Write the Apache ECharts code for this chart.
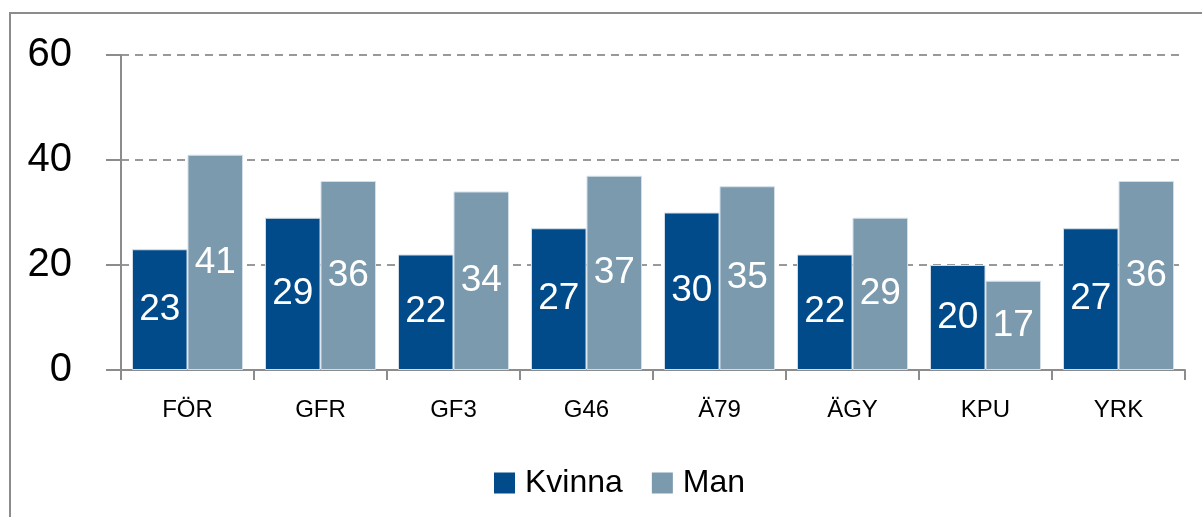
<!DOCTYPE html>
<html>
<head>
<meta charset="utf-8">
<script src="https://cdn.jsdelivr.net/npm/echarts@6/dist/echarts.min.js"></script>
<style>
  html, body { margin: 0; padding: 0; background: #fff; }
  #chart { width: 1202px; height: 517px; }
</style>
</head>
<body>
<div id="chart"></div>
<script>
// data
const categories = ["FÖR", "GFR", "GF3", "G46", "Ä79", "ÄGY", "KPU", "YRK"];
const kvinna = [23, 29, 22, 27, 30, 22, 20, 27];
const man = [41, 36, 34, 37, 35, 29, 17, 36];
const seriesNames = ["Kvinna", "Man"];
const yTicks = [0, 20, 40, 60];

const font = "'Liberation Sans', Arial, sans-serif";

let myChart = echarts.init(document.getElementById("chart"));

function barSeries(name, data, color) {
  return {
    name: name,
    type: "bar",
    data: data,
    barGap: "0%",
    barCategoryGap: "16.5%",
    itemStyle: {
      color: color,
      borderColor: "#d3dfe8",
      borderWidth: 1,
    },
    label: {
      show: true,
      position: "inside",
      color: "#fff",
      fontSize: 37,
      fontFamily: font,
    },
  };
}

let option = {
  animation: false,
  backgroundColor: "#fff",
  graphic: [
    {
      type: "rect",
      shape: { x: 10, y: 13, width: 1400, height: 700 },
      style: { fill: "none", stroke: "#8c8c8c", lineWidth: 2 },
      silent: true,
    },
  ],
  legend: {
    left: 489,
    top: 462,
    itemWidth: 21,
    itemHeight: 21,
    itemGap: 29,
    icon: "rect",
    itemStyle: { borderWidth: 0 },
    textStyle: {
      color: "#000",
      fontSize: 32,
      fontFamily: font,
      padding: [0, 0, 0, 5],
    },
    data: seriesNames,
  },
  grid: {
    left: 121,
    right: 17,
    top: 55,
    bottom: 147,
  },
  xAxis: {
    type: "category",
    data: categories,
    axisLine: {
      lineStyle: { color: "#8c8c8c", width: 2 },
    },
    axisTick: {
      show: true,
      length: 10,
      lineStyle: { color: "#8c8c8c", width: 2 },
    },
    axisLabel: {
      color: "#000",
      fontSize: 24,
      fontFamily: font,
      margin: 28,
    },
  },
  yAxis: {
    type: "value",
    min: yTicks[0],
    max: yTicks[yTicks.length - 1],
    interval: 20,
    axisLine: {
      show: true,
      lineStyle: { color: "#8c8c8c", width: 2 },
    },
    axisTick: {
      show: true,
      length: 15,
      lineStyle: { color: "#8c8c8c", width: 2 },
    },
    axisLabel: {
      color: "#000",
      fontSize: 40,
      fontFamily: font,
      margin: 49,
    },
    splitLine: {
      show: true,
      lineStyle: {
        color: "#999",
        width: 2,
        type: [8, 6],
      },
    },
  },
  series: [
    barSeries(seriesNames[0], kvinna, "#024b8a"),
    barSeries(seriesNames[1], man, "#7b9aae"),
  ],
};

myChart.setOption(option);
</script>
</body>
</html>
